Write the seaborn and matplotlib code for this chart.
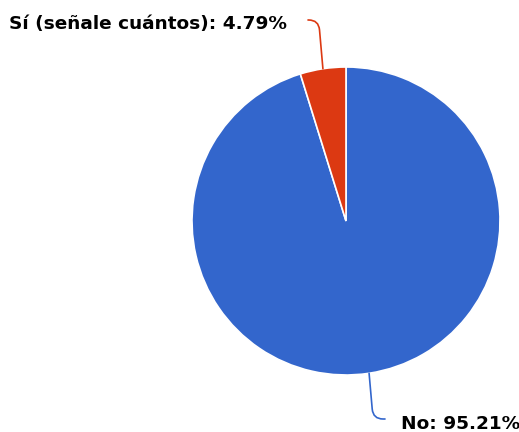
import seaborn as sns
import matplotlib.pyplot as plt
import numpy as np

sns.set_style("white")
plt.rcParams['font.family'] = ['DejaVu Sans']

# Data
labels = ["No", "Sí (señale cuántos)"]
values = [95.21, 4.79]
colors = ["#3366cc", "#dc3912"]

W, H = 519, 432
fig = plt.figure(figsize=(W / 100, H / 100), dpi=100)
ax = fig.add_axes([0, 0, 1, 1])

cx, cy, r = 346, H - 221, 154
wedges, _ = ax.pie(values, colors=colors, startangle=90, counterclock=False,
                   center=(cx, cy), radius=r,
                   wedgeprops=dict(edgecolor="white", linewidth=1.2))
ax.set_xlim(0, W)
ax.set_ylim(0, H)
ax.set_aspect("equal")
ax.axis("off")

# label placement (text anchor, elbow, ha)
label_pos = [((401, H - 424), (385, H - 419), "left"),
             ((287, H - 24), (308, H - 20), "right")]

for w, lab, val, col, (tpos, elbow, ha) in zip(wedges, labels, values, colors, label_pos):
    ang = np.deg2rad((w.theta1 + w.theta2) / 2)
    px, py = cx + r * np.cos(ang), cy + r * np.sin(ang)
    ax.annotate("", xy=(px, py), xytext=elbow,
                arrowprops=dict(arrowstyle="-", color=col, lw=1.2,
                                shrinkA=0, shrinkB=0,
                                connectionstyle="angle,angleA=0,angleB=95,rad=10"))
    ax.text(tpos[0], tpos[1], f"{lab}: {val:.2f}%", ha=ha, va="center",
            fontsize=13.3, fontweight="bold", color="black")

plt.savefig("out.png", dpi=100)
plt.close()
